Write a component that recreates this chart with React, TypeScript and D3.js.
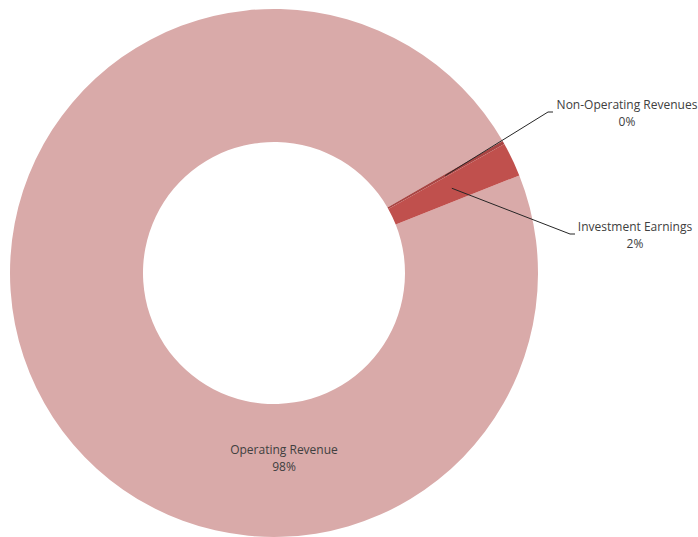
import React from "react";
import * as d3 from "d3";

const categories = ["Operating Revenue", "Non-Operating Revenues", "Investment Earnings"];
const values = [97.7, 0.2, 2.1];
const percentLabels = ["98%", "0%", "2%"];
const colors = ["#D9AAA9", "#A84543", "#C0504D"];

export default function App() {
  const W = 698, H = 537;
  const cx = 274, cy = 273, rOuter = 264, rInner = 131;
  const start = (68.3 * Math.PI) / 180;
  const pie = d3.pie<number>().sort(null).value((d) => d).startAngle(start).endAngle(start + 2 * Math.PI);
  const arcs = pie(values);
  const arc = d3.arc<d3.PieArcDatum<number>>().innerRadius(rInner).outerRadius(rOuter);
  const mid = d3.arc<d3.PieArcDatum<number>>().innerRadius(197).outerRadius(197);
  const font = "'Open Sans', sans-serif";
  const textColor = "#404040";

  const c1 = mid.centroid(arcs[1]);
  const c2 = mid.centroid(arcs[2]);

  return (
    <svg width={W} height={H} style={{ position: "absolute", left: 0, top: 0 }}>
      <rect width={W} height={H} fill="#fff" />
      <g transform={`translate(${cx},${cy})`}>
        {arcs.map((a, i) => (
          <path key={i} d={arc(a) || ""} fill={colors[i]} />
        ))}
        <polyline
          points={`${c1[0]},${c1[1]} ${548 - cx},${112 - cy} ${553 - cx},${112 - cy}`}
          fill="none"
          stroke="#262626"
          strokeWidth={1}
        />
        <polyline
          points={`${c2[0]},${c2[1]} ${570 - cx},${234 - cy} ${575 - cx},${234 - cy}`}
          fill="none"
          stroke="#262626"
          strokeWidth={1}
        />
      </g>
      <g fontFamily={font} fontSize={12} fill={textColor} textAnchor="middle">
        <text x={284} y={454}>{categories[0]}</text>
        <text x={284} y={471}>{percentLabels[0]}</text>
        <text x={627} y={109}>{categories[1]}</text>
        <text x={627} y={126}>{percentLabels[1]}</text>
        <text x={635} y={231}>{categories[2]}</text>
        <text x={635} y={248}>{percentLabels[2]}</text>
      </g>
    </svg>
  );
}
